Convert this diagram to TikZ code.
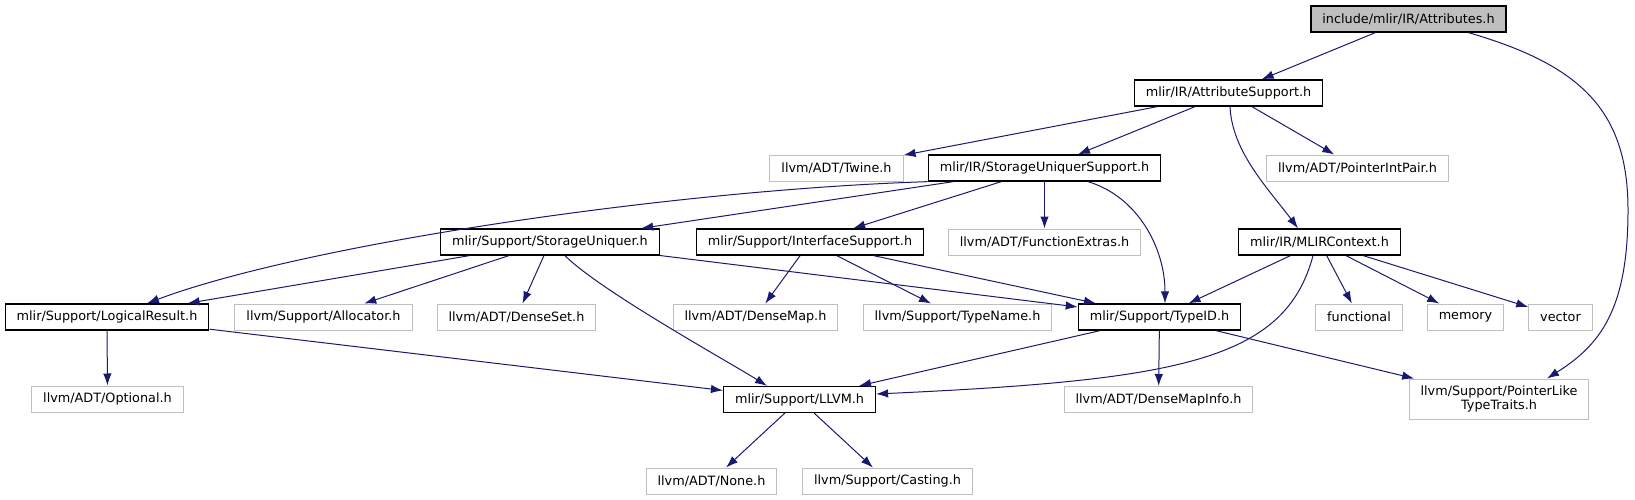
\documentclass[tikz,border=0pt]{standalone}
\usepackage{fontspec}
\setsansfont{DejaVu Sans}
\usetikzlibrary{arrows.meta}
\definecolor{edgeblue}{RGB}{25,25,112}
\definecolor{extgray}{RGB}{191,191,191}

\begin{document}
\begin{tikzpicture}[x=1pt, y=-1pt,
        box/.style={rectangle, minimum height=26pt, inner xsep=11.5pt, inner ysep=0pt, line width=1pt,
            font=\sffamily\fontsize{12.8}{14.5}\selectfont},
        docnode/.style={box, draw=black, line width=1.3pt},
        extnode/.style={box, draw=extgray},
        rootnode/.style={box, draw=black, line width=1.3pt, fill=extgray},
        edge/.style={draw=edgeblue, line width=1pt, -{Latex[length=12pt, width=8.5pt]}}]
            \useasboundingbox (0,0) rectangle (1635,500);

            \node[rootnode] (attr) at (1408.5,19) {include/mlir/IR/Attributes.h};
            \node[docnode] (attrsup) at (1228.5,93) {mlir/IR/AttributeSupport.h};

            \node[extnode] (twine) at (836.5,168) {llvm/ADT/Twine.h};
            \node[docnode] (sus) at (1044.5,168) {mlir/IR/StorageUniquerSupport.h};
            \node[extnode] (pip) at (1357.5,168) {llvm/ADT/PointerIntPair.h};

            \node[docnode] (su) at (550,242) {mlir/Support/StorageUniquer.h};
            \node[docnode] (ifs) at (810,242) {mlir/Support/InterfaceSupport.h};
            \node[extnode] (fe) at (1044.5,242) {llvm/ADT/FunctionExtras.h};
            \node[docnode] (ctx) at (1319.5,242) {mlir/IR/MLIRContext.h};

            \node[docnode] (lr) at (107,317) {mlir/Support/LogicalResult.h};
            \node[extnode] (alloc) at (323.5,317) {llvm/Support/Allocator.h};
            \node[extnode] (dset) at (516.5,317) {llvm/ADT/DenseSet.h};
            \node[extnode] (dmap) at (755.5,317) {llvm/ADT/DenseMap.h};
            \node[extnode] (tname) at (957.5,317) {llvm/Support/TypeName.h};
            \node[docnode] (tid) at (1159.5,317) {mlir/Support/TypeID.h};
            \node[extnode] (func) at (1359,317) {functional};
            \node[extnode] (mem) at (1465.5,317) {memory};
            \node[extnode] (vec) at (1560.5,317) {vector};

            \node[extnode] (opt) at (107.5,399) {llvm/ADT/Optional.h};
            \node[docnode] (llvm) at (799.5,399.5) {mlir/Support/LLVM.h};
            \node[extnode] (dmi) at (1158.5,399.5) {llvm/ADT/DenseMapInfo.h};
            \node[extnode, minimum height=40pt, align=center] (plt) at (1499,399) {llvm/Support/PointerLike\\TypeTraits.h};

            \node[extnode] (none) at (711.5,481) {llvm/ADT/None.h};
            \node[extnode] (cast) at (887.5,481) {llvm/Support/Casting.h};

            \draw[edge] (attr) -- (attrsup);
            \draw[edge] ([xshift=60pt]attr.south) .. controls (1580,65) and (1628,110) .. (1628,210)
                .. controls (1628,310) and (1600,345) .. ([xshift=48pt]plt.north);

            \draw[edge] (attrsup) -- (twine);
            \draw[edge] (attrsup) -- (sus);
            \draw[edge] (attrsup) -- (pip);
            \draw[edge] ([xshift=1.5pt]attrsup.south) .. controls +(2,45) and +(-30,-40) .. ([xshift=-21.5pt]ctx.north);

            \draw[edge] (sus) -- (su);
            \draw[edge] (sus.south west) .. controls +(-250,8) and +(160,-60) .. ([xshift=40pt]lr.north);
            \draw[edge] (sus) -- (ifs);
            \draw[edge] (sus) -- (fe);
            \draw[edge] ([xshift=43.5pt]sus.south) .. controls +(50,15) and +(0,-55) .. ([xshift=5.5pt]tid.north);

            \draw[edge] (su) -- (lr);
            \draw[edge] (su) -- (alloc);
            \draw[edge] (su) -- (dset);
            \draw[edge] ([xshift=15pt]su.south) .. controls +(35,35) and +(-40,-25) .. ([xshift=-32.5pt]llvm.north);
            \draw[edge] (su) -- (tid);

            \draw[edge] (ifs) -- (dmap);
            \draw[edge] (ifs) -- (tname);
            \draw[edge] (ifs) -- (tid);

            \draw[edge] (ctx) -- (tid);
            \draw[edge] ([xshift=-6.5pt]ctx.south) .. controls +(-28,105) and +(303,-14) .. ([yshift=5.5pt]llvm.east);
            \draw[edge] (ctx) -- (func);
            \draw[edge] (ctx) -- (mem);
            \draw[edge] (ctx) -- (vec);

            \draw[edge] (lr) -- (opt);
            \draw[edge] (lr) -- (llvm);

            \draw[edge] (tid) -- (llvm);
            \draw[edge] (tid) -- (dmi);
            \draw[edge] (tid) -- (plt);

            \draw[edge] (llvm) -- (none);
            \draw[edge] (llvm) -- (cast);
        \end{tikzpicture}
\end{document}
